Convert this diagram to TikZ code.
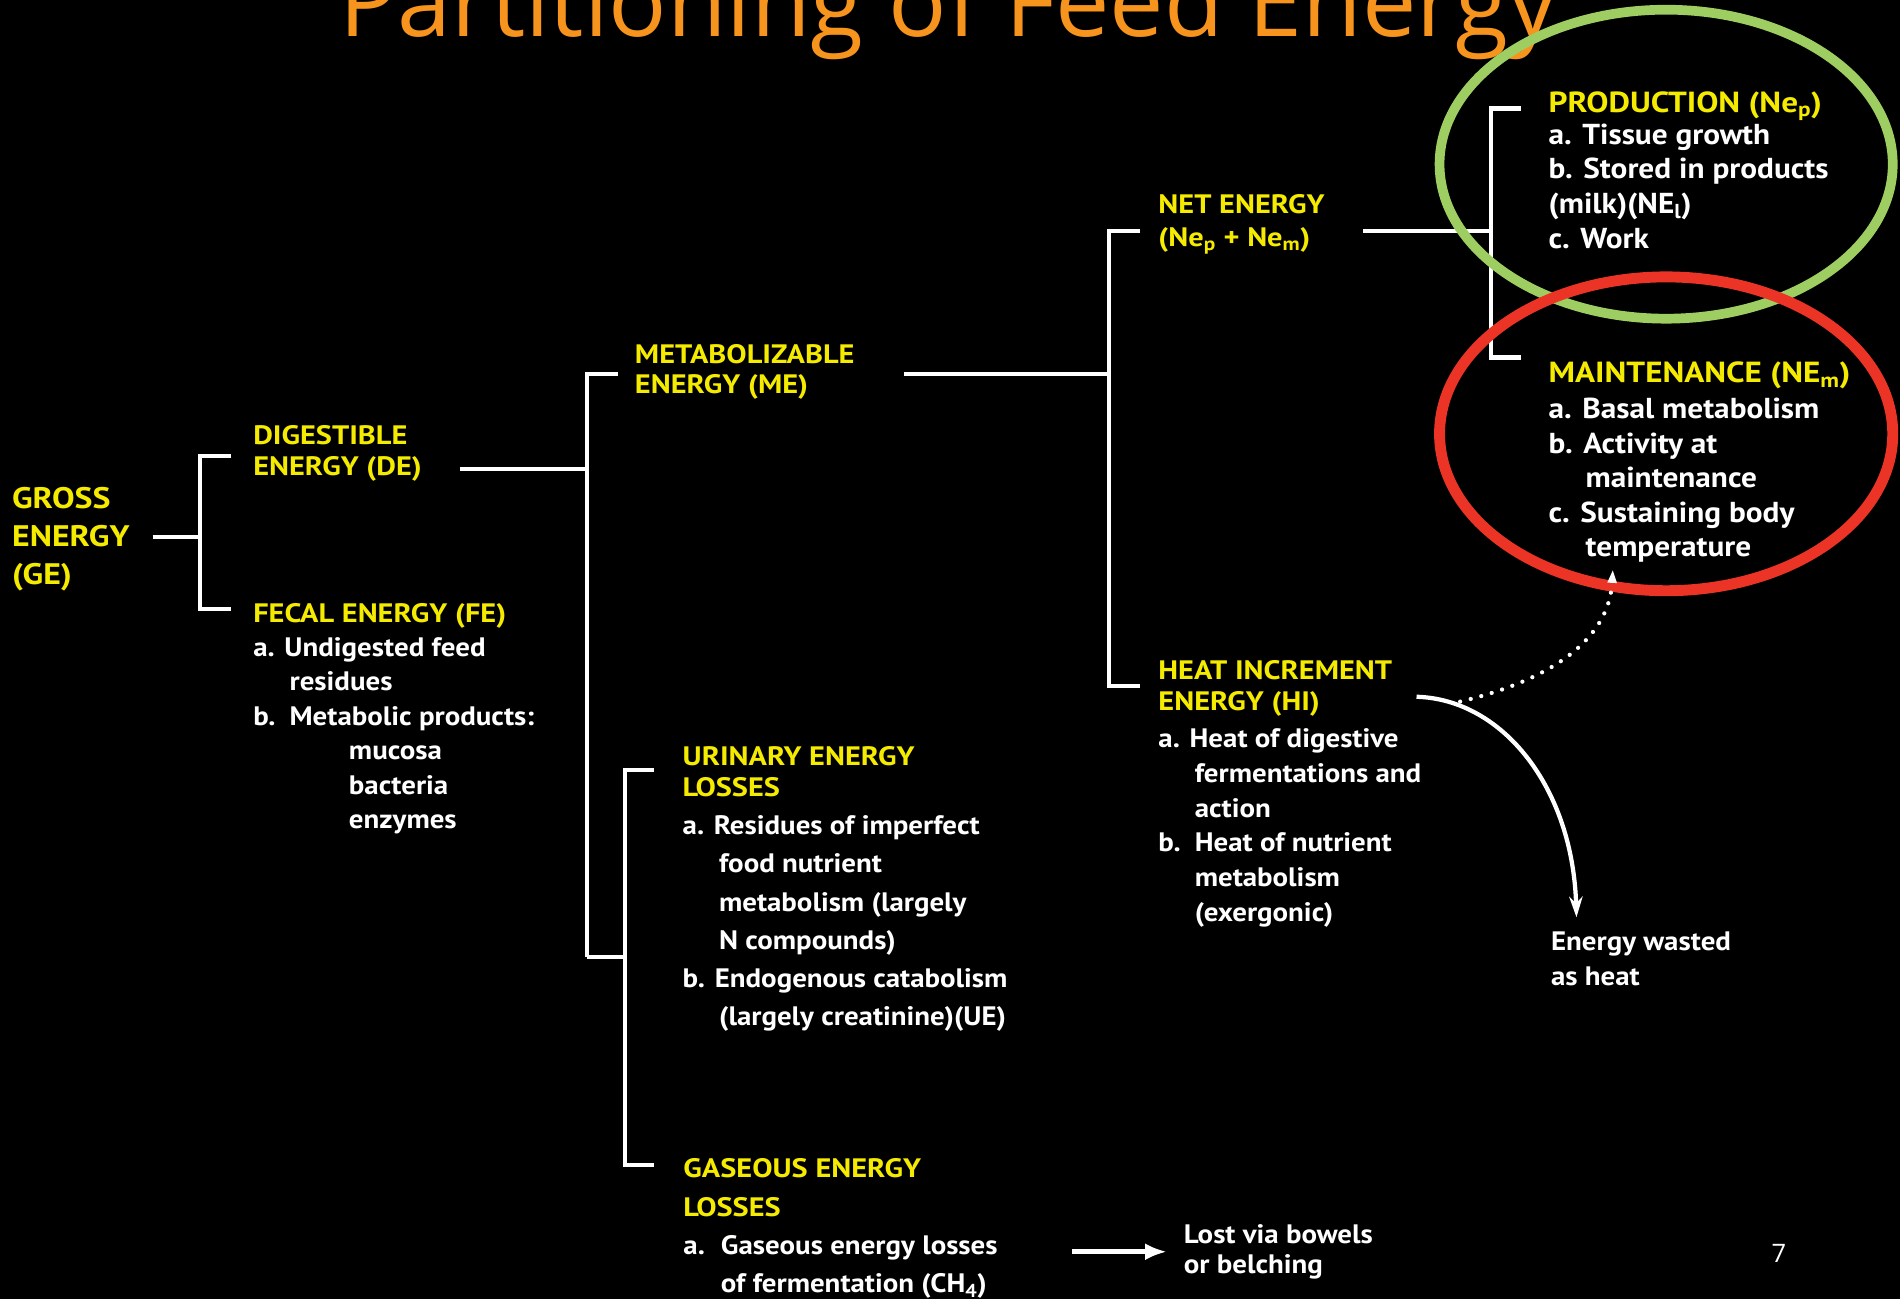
\documentclass[tikz,border=0pt]{standalone}
\usepackage{fontspec}
\setmainfont{PT Sans}
\newfontfamily\hdfont{PT Sans}[FakeStretch=1.14]
\newfontfamily\bdfont{PT Sans}[FakeStretch=1.085]
\newfontfamily\titlefont{Open Sans}
\usetikzlibrary{arrows.meta}
\definecolor{hdr}{RGB}{245,235,0}
\definecolor{ttl}{RGB}{247,148,30}
\definecolor{grn}{RGB}{158,206,98}
\definecolor{rd}{RGB}{236,52,38}
\begin{document}
\begin{tikzpicture}[x=1pt,y=-1pt,
  every node/.style={inner sep=0pt, outer sep=0pt, anchor=base west, align=left},
  hd/.style={text=hdr, font=\hdfont\bfseries\fontsize{22}{#1}\selectfont},
  hd/.default=25,
  bd/.style={text=white, font=\bdfont\bfseries\fontsize{22}{#1}\selectfont},
  bd/.default=28.5,
  hdbig/.style={text=hdr, font=\hdfont\bfseries\fontsize{24}{#1}\selectfont},
  hdbig/.default=25,
  bdbig/.style={text=white, font=\bdfont\bfseries\fontsize{23.8}{#1}\selectfont},
  bdbig/.default=28.5,
  wire/.style={draw=white, line width=3.5pt, line join=miter},
  ring/.style={line width=8pt}
]
\fill[black] (0,0) rectangle (1568,1072);
\useasboundingbox (0,0) rectangle (1568,1072);
\clip (0,0) rectangle (1568,1072);

% title and page number (anchors: baseline of the last line)
\node[text=ttl, font=\titlefont\fontsize{80}{80}\selectfont] (title) at (280,30) {Partitioning of Feed Energy};
\node[text=white, font=\titlefont\fontsize{21}{21}\selectfont] (pg) at (1462,1042) {7};

% headings
\node[text=hdr, font=\hdfont\bfseries\fontsize{24.5}{31}\selectfont] (ge) at (10,482) {GROSS\\ENERGY\\(GE)};
\node[hd] (de) at (209,392) {DIGESTIBLE\\ENERGY (DE)};
\node[hd] (fe) at (209,514) {FECAL ENERGY (FE)};
\node[hd] (me) at (524,324.6) {METABOLIZABLE\\ENERGY (ME)};
\node[hd=27.7] (ne) at (956,203.7) {NET ENERGY\\(Ne\textsubscript{p} + Ne\textsubscript{m})};
\node[hdbig] (prod) at (1278,92.5) {PRODUCTION (Ne\textsubscript{p})};
\node[hdbig] (maint) at (1278,315.8) {MAINTENANCE (NE\textsubscript{m})};
\node[hd] (hi) at (956,586) {HEAT INCREMENT\\ENERGY (HI)};
\node[hd=25.6] (ur) at (563.4,657) {URINARY ENERGY\\LOSSES};
\node[hd=32] (gas) at (564,1004) {GASEOUS ENERGY\\LOSSES};

% body texts
\node[bd] (feb) at (209,683.9) {a. Undigested feed\\\hspace*{30pt}residues\\\makebox[30pt][l]{b.}Metabolic products:\\\hspace*{79pt}mucosa\\\hspace*{79pt}bacteria\\\hspace*{79pt}enzymes};
\node[bdbig=28.6] (prodb) at (1278,204.8) {a. Tissue growth\\b. Stored in products\\(milk)(NE\textsubscript{l})\\c. Work};
\node[bdbig] (maintb) at (1278,459.6) {a. Basal metabolism\\b. Activity at\\\hspace*{30.5pt}maintenance\\c. Sustaining body\\\hspace*{30.5pt}temperature};
\node[bd=28.7] (hib) at (956,760.5) {a. Heat of digestive\\\hspace*{30pt}fermentations and\\\hspace*{30pt}action\\\makebox[30pt][l]{b.}Heat of nutrient\\\hspace*{30pt}metabolism\\\hspace*{30pt}(exergonic)};
\node[bd=31.4] (urb) at (563.4,846) {a. Residues of imperfect\\\hspace*{30pt}food nutrient\\\hspace*{30pt}metabolism (largely\\\hspace*{30pt}N compounds)\\b. Endogenous catabolism\\\hspace*{30pt}(largely creatinine)(UE)};
\node[bd=32] (gasb) at (564,1067) {\makebox[31pt][l]{a.}Gaseous energy losses\\\hspace*{31pt}of fermentation (CH\textsubscript{4})};
\node[bd=25] (lost) at (977,1051) {Lost via bowels\\or belching};
\node[bd=29] (waste) at (1280,813) {Energy wasted\\as heat};

% bracket points
\coordinate (geR) at (126,443);
\coordinate (b1m) at (165,443);
\coordinate (b1t) at (165,376.5);
\coordinate (b1b) at (165,502.5);
\coordinate (deT) at (191,376.5);
\coordinate (feT) at (191,502.5);
\coordinate (deR) at (380,387);
\coordinate (b2m) at (484.6,387);
\coordinate (b2t) at (484.6,308.5);
\coordinate (b2b) at (484.6,789.5);
\coordinate (meT) at (510,308.5);
\coordinate (b3m) at (516,789.5);
\coordinate (b3t) at (516,635.5);
\coordinate (b3b) at (516,961.5);
\coordinate (urT) at (540,635.5);
\coordinate (gasT) at (540,961.5);
\coordinate (meR) at (746,308.5);
\coordinate (b4m) at (915,308.5);
\coordinate (b4t) at (915,190.5);
\coordinate (b4b) at (915,566);
\coordinate (neT) at (941,190.5);
\coordinate (hiT) at (941,566);
\coordinate (neR) at (1125,190.5);
\coordinate (b5m) at (1230.5,190.5);
\coordinate (b5t) at (1230.5,89.5);
\coordinate (b5b) at (1230.5,295);
\coordinate (prodT) at (1255,89.5);
\coordinate (maintT) at (1255,295);

% brackets
\draw[wire] (geR) -- (b1m);
\draw[wire] (deT) -- (b1t) -- (b1b) -- (feT);
\draw[wire] (deR) -- (b2m);
\draw[wire] (meT) -- (b2t) -- (b2b);
\draw[wire] (b2b) -- (b3m);
\draw[wire] (urT) -- (b3t) -- (b3b) -- (gasT);
\draw[wire] (meR) -- (b4m);
\draw[wire] (neT) -- (b4t) -- (b4b) -- (hiT);
\draw[wire] (neR) -- (b5m);
\draw[wire] (prodT) -- (b5t) -- (b5b) -- (maintT);

% highlight ellipses
\draw[grn, ring] (1375,135.5) ellipse [x radius=187pt, y radius=127.5pt];
\draw[rd, ring, line width=9pt] (1375,358) ellipse [x radius=187pt, y radius=129.5pt];

% arrows
\coordinate (gasA) at (885,1033);
\coordinate (lostA) at (963,1033);
\draw[white, line width=4.5pt, -{Latex[length=18pt,width=14pt]}] (gasA) -- (lostA);
\coordinate (hiA) at (1169,575);
\coordinate (wasteA) at (1301,757);
\draw[white, line width=3.5pt, -{Stealth[length=17pt,width=11pt]}] (hiA) .. controls (1240,577) and (1298,650) .. (wasteA);
\coordinate (hiB) at (1205,579);
\coordinate (maintA) at (1331,470);
\draw[white, line width=3.5pt, line cap=round, dash pattern=on 0pt off 9pt, -{Triangle[length=11pt,width=7pt]}] (hiB) .. controls (1285,560) and (1328,525) .. (maintA);
\end{tikzpicture}
\end{document}
